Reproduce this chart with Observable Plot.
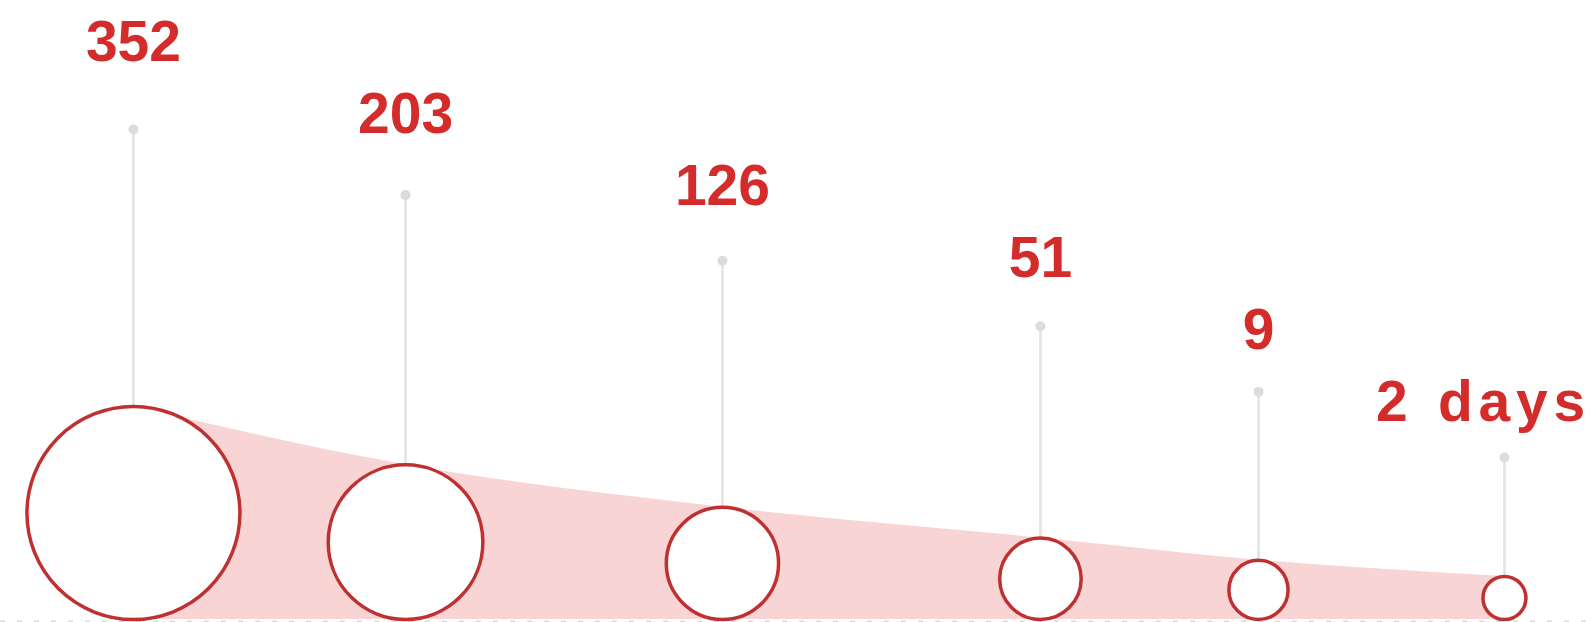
<!DOCTYPE html>
<html>
<head>
<meta charset="utf-8">
<script src="https://cdn.jsdelivr.net/npm/d3@7"></script>
<script src="https://cdn.jsdelivr.net/npm/@observablehq/plot@0.6"></script>
<style>
  html, body { margin: 0; padding: 0; background: #fff; }
  #chart svg g.last-label text { letter-spacing: 5.8px; word-spacing: 0.05em; }
</style>
</head>
<body>
<div id="chart"></div>
<script>
// ---- Data ----
const labels = ["352", "203", "126", "51", "9", "2 days"];
const values = [352, 203, 126, 51, 9, 2];
// position of each stage along the (hidden) horizontal track, in % of its length
const stage = [8.34, 25.41, 45.29, 65.24, 78.92, 94.35];

const rows = labels.map((label, i) => ({label, value: values[i], stage: stage[i], rank: i}));

// ---- Layout rules (styling, by rank) ----
const radius = d => 106.5 * Math.pow(0.726, d.rank);   // circles shrink step by step
const stemTop = d => 490 - 65.6 * d.rank;              // staircase of leader tops
const labelY = d => 559 - 72 * d.rank;                 // staircase of labels

const textOpts = {
  x: "stage", y: labelY, text: "label", lineAnchor: "bottom",
  fontSize: 57, fontWeight: "bold", fill: "#d42b2b"
};

const chart = Plot.plot({
  width: 1594,
  height: 622,
  marginTop: 0, marginRight: 0, marginLeft: 0, marginBottom: 3,
  style: {fontFamily: "'Liberation Sans', Arial, sans-serif", background: "#fff", overflow: "visible"},
  x: {domain: [0, 100], axis: null},
  y: {domain: [0, 619], axis: null},
  r: {type: "identity"},
  marks: [
    Plot.ruleY([-2.5], {stroke: "#dcdcdc", strokeWidth: 3, strokeDasharray: "5,12"}),
    Plot.area(rows, {x1: "stage", y1: 0, y2: d => 2 * radius(d), curve: "monotone-x", fill: "#f9d4d4"}),
    Plot.ruleX(rows, {x: "stage", y1: d => 2 * radius(d), y2: stemTop, stroke: "#e2e2e2", strokeWidth: 2.5}),
    Plot.dot(rows, {x: "stage", y: stemTop, r: 5, fill: "#dcdcdc"}),
    Plot.dot(rows, {x: "stage", y: radius, r: radius, fill: "#fff", stroke: "#bf3030", strokeWidth: 3.5, sort: null}),
    Plot.text(rows.slice(0, 5), textOpts),
    Plot.text(rows.slice(5), {...textOpts, dx: -21, className: "last-label"})
  ]
});
document.getElementById("chart").appendChild(chart);
</script>
</body>
</html>
